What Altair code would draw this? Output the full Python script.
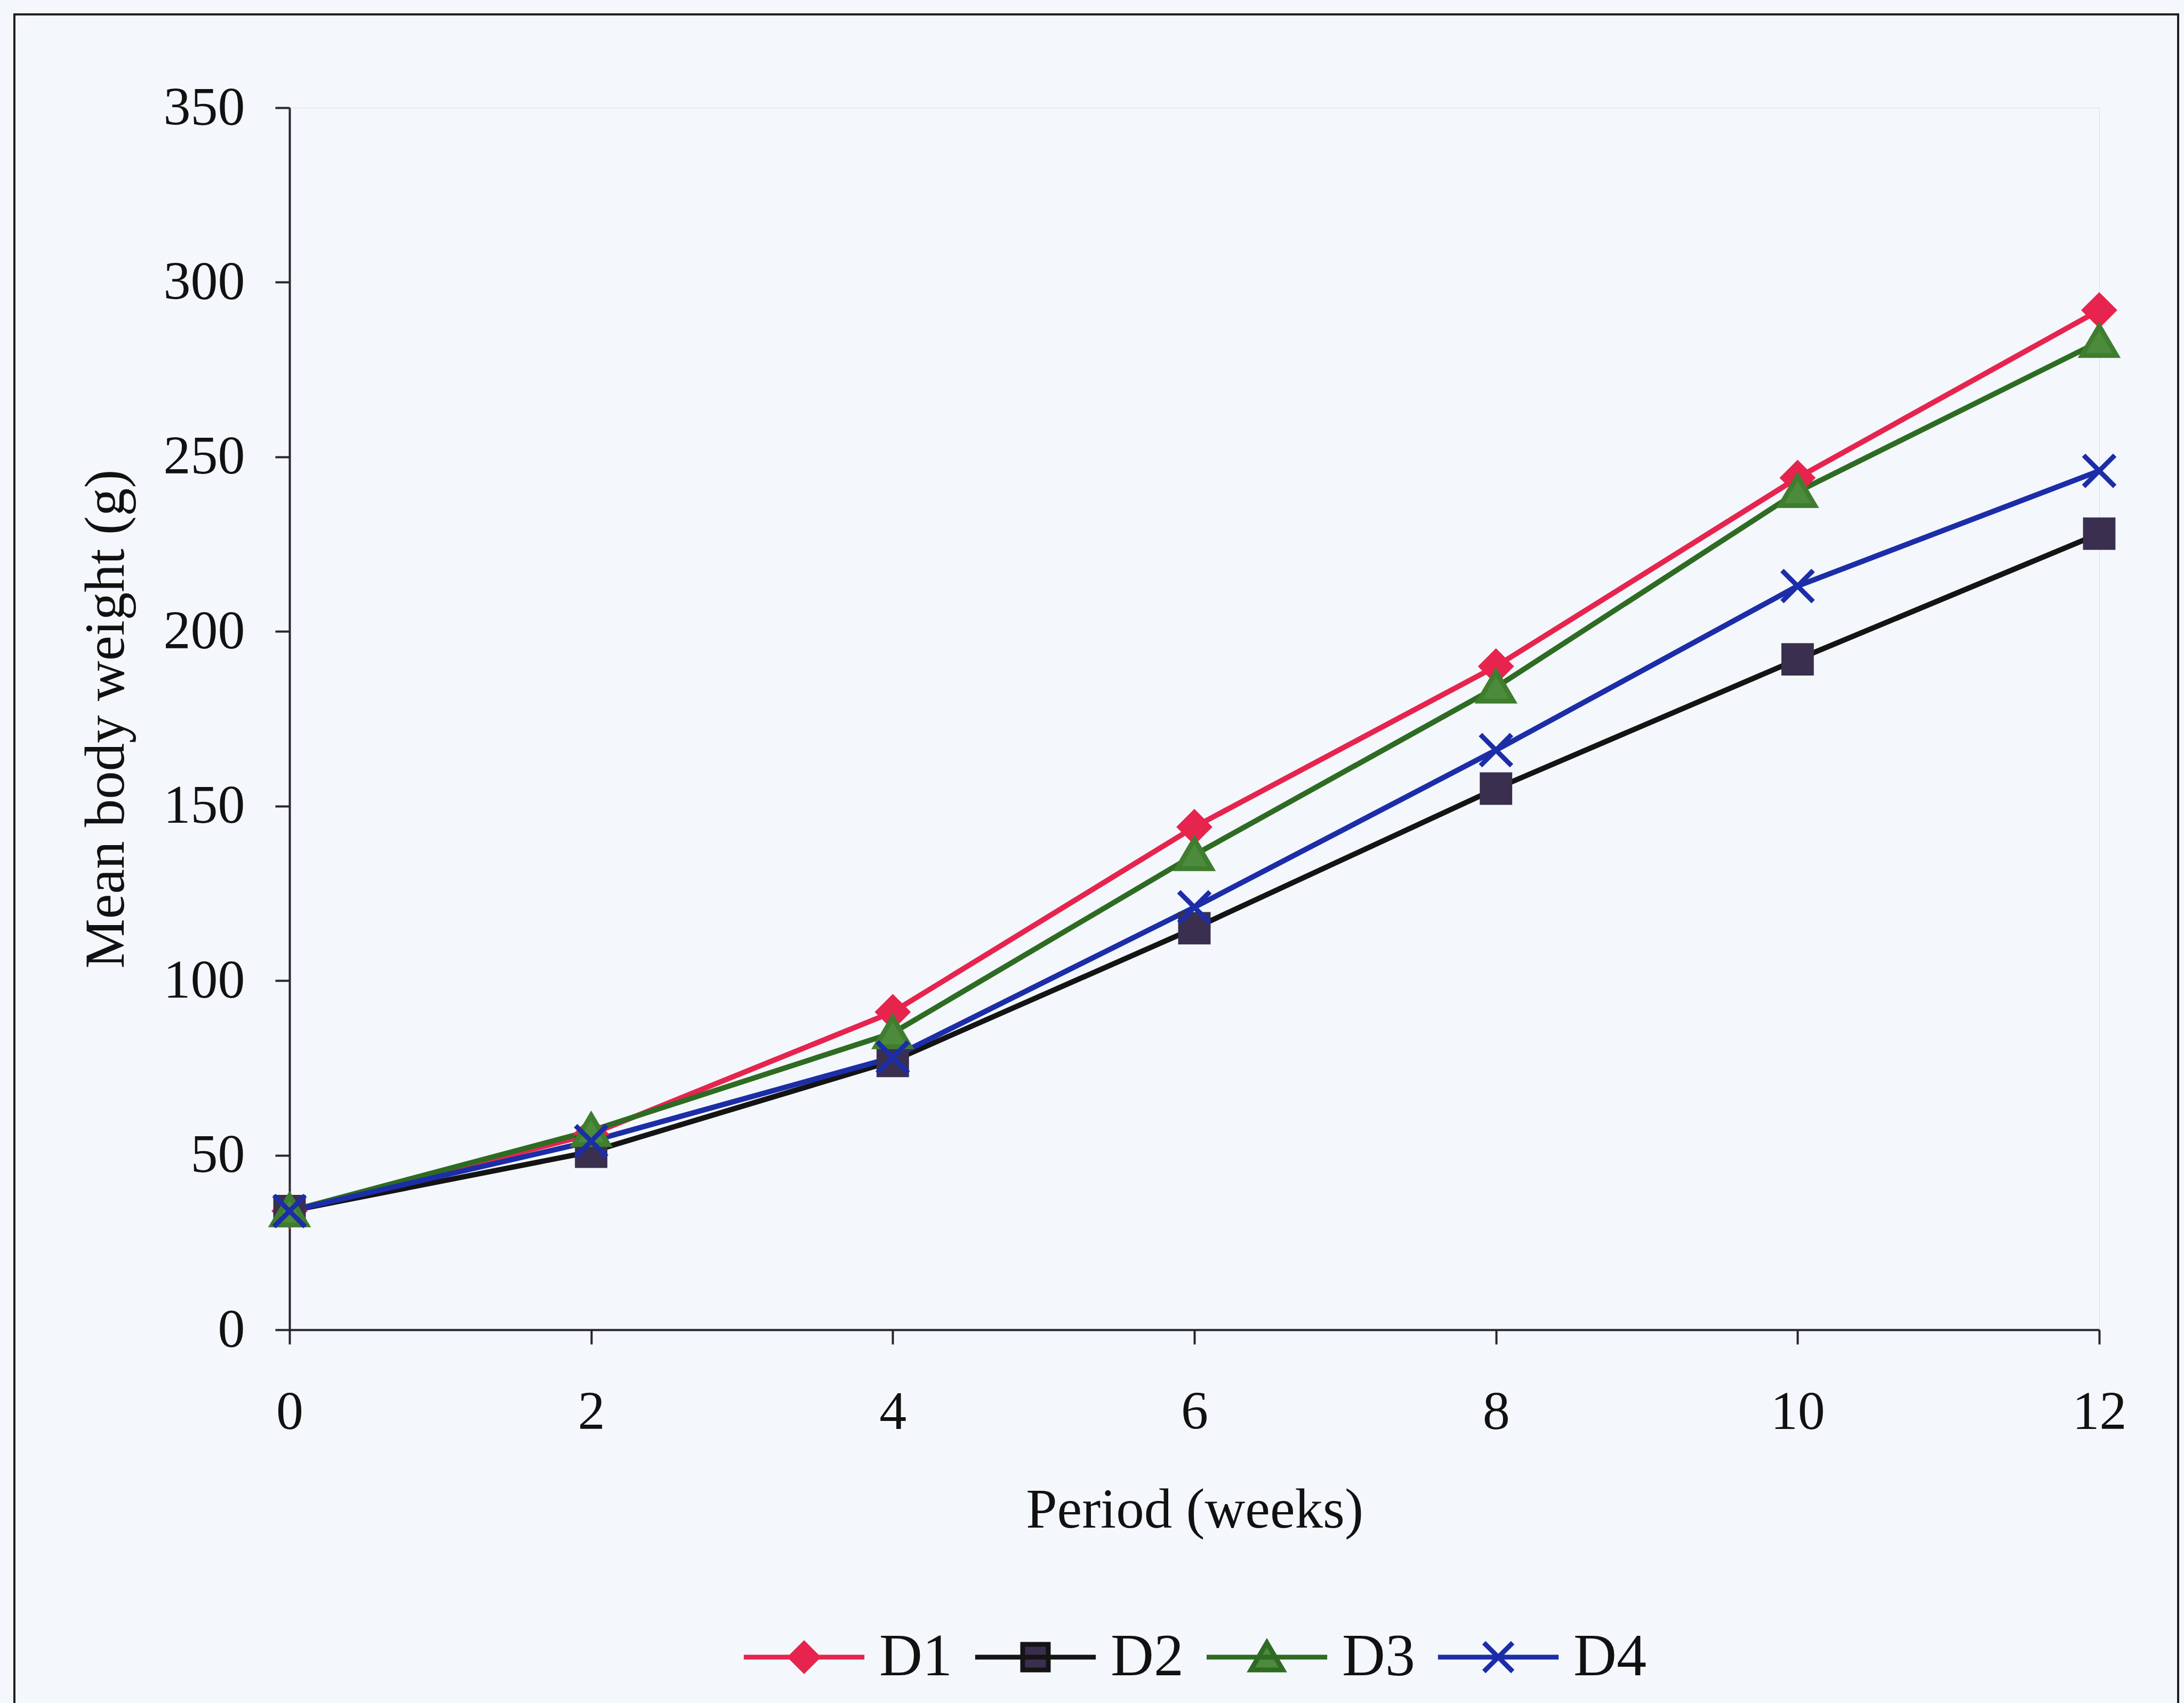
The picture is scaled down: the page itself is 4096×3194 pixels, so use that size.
import altair as alt
import pandas as pd

# ---- data ----
weeks = [0, 2, 4, 6, 8, 10, 12]
series = ["D1", "D2", "D3", "D4"]
d1 = [34, 56, 91, 144, 190, 244, 292]
d2 = [34, 51, 77, 115, 155, 192, 228]
d3 = [34, 57, 85, 136, 184, 240, 283]
d4 = [34, 54, 78, 121, 166, 213, 246]
y_ticks = [0, 50, 100, 150, 200, 250, 300, 350]
x_ticks = [0, 2, 4, 6, 8, 10, 12]

# ---- styles ----
line_colors = ["#E6244E", "#141414", "#2E6B23", "#1C2DA8"]
marker_fill = ["#E6244E", "#3A2F4E", "#4B8B3B", "#1C2DA8"]
marker_stroke = ["#E6244E", "#3A2F4E", "#3F7D2F", "#1C2DA8"]
marker_paths = [
    "M0,-0.85L0.85,0L0,0.85L-0.85,0Z",
    "M-0.8,-0.8L0.8,-0.8L0.8,0.8L-0.8,0.8Z",
    "M0,-0.9L1,0.8L-1,0.8Z",
    "M-0.9,-0.9L0.9,0.9M0.9,-0.9L-0.9,0.9",
]
legend_paths = ["M-3.77,0L3.77,0" + p for p in marker_paths]
legend_stroke = ["#E6244E", "#141414", "#2E6B23", "#1C2DA8"]

FONT = "Liberation Serif"
AX = "#26262e"

rows = []
for name, vals in zip(series, [d1, d2, d3, d4]):
    for w, v in zip(weeks, vals):
        rows.append({"week": w, "weight": v, "diet": name})
df = pd.DataFrame(rows)

x_enc = alt.X(
    "week:Q",
    scale=alt.Scale(domain=[0, 12], nice=False),
    axis=alt.Axis(
        values=x_ticks, title="Period (weeks)", grid=False,
        tickSize=27, tickWidth=4, tickColor=AX, domainWidth=4, domainColor=AX,
        labelFont=FONT, labelFontSize=102, labelColor="#111", labelPadding=158,
        labelBaseline="alphabetic", labelFlush=False, labelOverlap=False,
        titleFont=FONT, titleFontSize=105, titleFontWeight="normal", titleColor="#111",
        titleY=370, titleBaseline="alphabetic",
    ),
)
y_enc = alt.Y(
    "weight:Q",
    scale=alt.Scale(domain=[0, 350], nice=False),
    axis=alt.Axis(
        values=y_ticks, title="Mean body weight (g)", grid=False,
        tickSize=27, tickWidth=4, tickColor=AX, domainWidth=4, domainColor=AX,
        labelFont=FONT, labelFontSize=102, labelColor="#111", labelPadding=57,
        labelFlush=False, labelOverlap=False,
        titleFont=FONT, titleFontSize=105, titleFontWeight="normal", titleColor="#111",
        titleX=-312, titleBaseline="alphabetic", titleAngle=270,
    ),
)

base = alt.Chart(df)

frame = alt.Chart(pd.DataFrame({"a": [0]})).mark_rect(
    fillOpacity=0, stroke="#1e1e1e", strokeWidth=4
).encode(
    x=alt.value(-516), x2=alt.value(3542), y=alt.value(-175), y2=alt.value(3020)
)

lines = base.mark_line(strokeWidth=10, opacity=1).encode(
    x=x_enc, y=y_enc,
    stroke=alt.Stroke("diet:N", scale=alt.Scale(domain=series, range=line_colors), legend=None),
    order="week:Q",
)

points = base.mark_point(filled=True, size=4200, strokeWidth=9, opacity=1).encode(
    x=x_enc, y=y_enc,
    shape=alt.Shape("diet:N", scale=alt.Scale(domain=series, range=marker_paths), legend=None),
    fill=alt.Fill("diet:N", scale=alt.Scale(domain=series, range=marker_fill), legend=None),
    stroke=alt.Stroke("diet:N", scale=alt.Scale(domain=series, range=marker_stroke), legend=None),
)

leg = alt.Legend(
    title=None, orient="none", legendX=909, legendY=2850, direction="horizontal",
    symbolSize=3600, symbolStrokeWidth=9, labelFont=FONT, labelFontSize=112,
    labelColor="#111", labelOffset=85, columnPadding=24,
)
legend_layer = base.mark_point(filled=True, size=3600, strokeWidth=9, opacity=1).encode(
    x=x_enc, y=y_enc,
    shape=alt.Shape("diet:N", scale=alt.Scale(domain=series, range=legend_paths), legend=leg),
    fill=alt.Fill("diet:N", scale=alt.Scale(domain=series, range=marker_fill), legend=leg),
    stroke=alt.Stroke("diet:N", scale=alt.Scale(domain=series, range=legend_stroke), legend=leg),
).transform_filter("false")

chart = alt.layer(frame, lines, points, legend_layer).resolve_scale(
    stroke="independent", fill="independent", shape="independent"
).properties(
    width=3394, height=2292,
    autosize=alt.AutoSizeParams(type="none"),
    padding={"left": 543, "top": 202, "right": 159, "bottom": 700},
).configure_view(
    stroke=None
).configure(background="#F4F7FB")

chart.save("out.html", embed_options={"renderer": "svg", "actions": False})
